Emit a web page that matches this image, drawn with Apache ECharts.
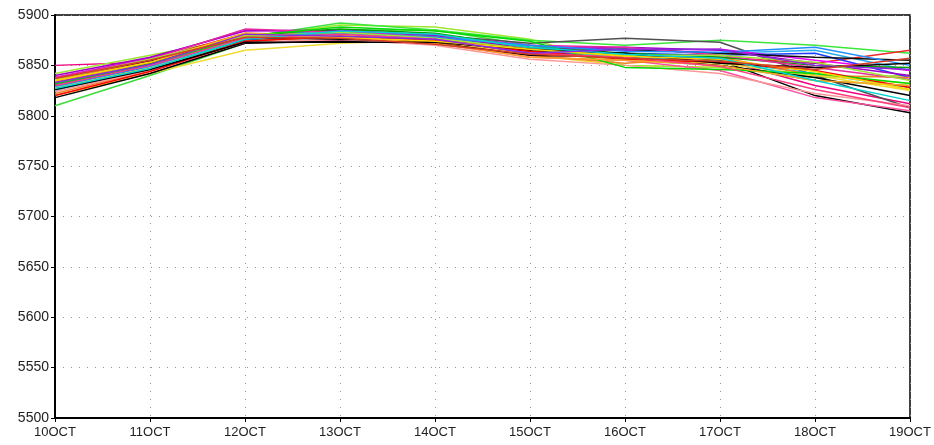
<!DOCTYPE html>
<html>
<head>
<meta charset="utf-8">
<script src="https://cdn.jsdelivr.net/npm/echarts@6/dist/echarts.min.js"></script>
<style>
	html, body { margin: 0; padding: 0; background: #fff; }
	#chart { width: 934px; height: 445px; }
</style>
</head>
<body>
<div id="chart"></div>
<script>
	// dates on the x axis
	var days = ["10OCT", "11OCT", "12OCT", "13OCT", "14OCT", "15OCT", "16OCT", "17OCT", "18OCT", "19OCT"];
	var yTicks = [5500, 5550, 5600, 5650, 5700, 5750, 5800, 5850, 5900];

	// ensemble members
	var m01 = [5850, 5853, 5876, 5880, 5878, 5862, 5860, 5856, 5830, 5812];
	var m02 = [5810, 5840, 5872, 5885, 5885, 5870, 5855, 5850, 5835, 5830];
	var m03 = [5820, 5842, 5865, 5872, 5875, 5860, 5850, 5848, 5840, 5825];
	var m04 = [5842, 5860, 5878, 5890, 5888, 5876, 5850, 5848, 5838, 5840];
	var m05 = [5828, 5850, 5878, 5892, 5885, 5875, 5870, 5875, 5870, 5862];
	var m06 = [5835, 5852, 5880, 5882, 5880, 5872, 5877, 5873, 5840, 5808];
	var m07 = [5830, 5848, 5875, 5878, 5874, 5865, 5862, 5855, 5820, 5803];
	var m08 = [5826, 5845, 5872, 5875, 5872, 5858, 5855, 5845, 5818, 5805];
	var m09 = [5832, 5852, 5880, 5884, 5878, 5868, 5866, 5862, 5865, 5845];
	var m10 = [5836, 5855, 5882, 5880, 5876, 5866, 5860, 5858, 5852, 5865];
	var m11 = [5838, 5857, 5885, 5883, 5880, 5870, 5865, 5866, 5855, 5845];
	var m12 = [5832, 5850, 5876, 5880, 5876, 5862, 5862, 5860, 5862, 5838];
	var m13 = [5825, 5848, 5874, 5882, 5879, 5866, 5858, 5854, 5842, 5828];
	var m14 = [5822, 5845, 5874, 5879, 5873, 5860, 5852, 5858, 5840, 5838];
	var m15 = [5840, 5858, 5884, 5885, 5880, 5866, 5868, 5865, 5852, 5840];
	var m16 = [5818, 5842, 5872, 5874, 5872, 5860, 5858, 5850, 5838, 5820];
	var m17 = [5830, 5852, 5880, 5886, 5882, 5868, 5862, 5858, 5850, 5848];
	var m18 = [5828, 5848, 5877, 5880, 5876, 5862, 5856, 5852, 5840, 5832];
	var m19 = [5824, 5845, 5873, 5876, 5870, 5856, 5850, 5842, 5822, 5810];
	var m20 = [5834, 5854, 5878, 5876, 5874, 5864, 5866, 5862, 5858, 5855];
	var m21 = [5820, 5844, 5874, 5879, 5875, 5864, 5856, 5853, 5845, 5828];
	var m22 = [5838, 5856, 5886, 5883, 5878, 5870, 5868, 5860, 5848, 5836];
	var m23 = [5832, 5851, 5879, 5888, 5884, 5874, 5848, 5846, 5842, 5832];
	var m24 = [5829, 5849, 5877, 5882, 5878, 5870, 5864, 5863, 5868, 5850];
	var m25 = [5834, 5853, 5880, 5878, 5872, 5858, 5855, 5850, 5835, 5830];
	var m26 = [5836, 5856, 5879, 5883, 5877, 5866, 5860, 5860, 5853, 5835];
	var m27 = [5826, 5846, 5873, 5873, 5873, 5866, 5862, 5852, 5848, 5852];
	var m28 = [5830, 5850, 5877, 5881, 5876, 5862, 5858, 5849, 5826, 5808];
	var m29 = [5835, 5853, 5882, 5878, 5874, 5866, 5859, 5856, 5844, 5826];
	var m30 = [5827, 5847, 5876, 5884, 5881, 5868, 5861, 5857, 5835, 5815];
	var m31 = [5833, 5851, 5881, 5879, 5876, 5862, 5866, 5866, 5850, 5846];
	var m32 = [5837, 5855, 5878, 5877, 5871, 5861, 5857, 5854, 5846, 5857];

	var members = [m01, m02, m03, m04, m05, m06, m07, m08, m09, m10, m11, m12, m13, m14, m15, m16,
		m17, m18, m19, m20, m21, m22, m23, m24, m25, m26, m27, m28, m29, m30, m31, m32];
	var colors = ["#f00082", "#3cdc3c", "#f0dc32", "#a0e632", "#3ce63c", "#505050", "#000000", "#ff50a0",
		"#28aaf0", "#f02828", "#f000f0", "#1e3cff", "#00c8c8", "#f08228", "#a000c8", "#000000",
		"#00a000", "#e6dc32", "#fa9696", "#101010", "#ff0000", "#e628a0", "#00dc00", "#1e8cff",
		"#ffa028", "#a0e632", "#000000", "#ff3c82", "#ffd200", "#00d2d2", "#8c28dc", "#d23c28"];

	var chart = echarts.init(document.getElementById("chart"));
	var txt = { color: "#222", fontFamily: "Liberation Sans", fontSize: 13 };

	chart.setOption({
		animation: false,
		grid: { left: 55, right: 24, top: 15, bottom: 27, show: true, borderColor: "#000", borderWidth: 1.5 },
		xAxis: {
			type: "category",
			data: days,
			boundaryGap: false,
			axisLine: { lineStyle: { color: "#000", width: 2 } },
			axisTick: { show: true, length: 4, lineStyle: { color: "#000" } },
			axisLabel: Object.assign({ margin: 8 }, txt),
			splitLine: { show: true, lineStyle: { color: "#999", type: [1, 7] } }
		},
		yAxis: {
			type: "value",
			min: yTicks[0],
			max: yTicks[yTicks.length - 1],
			interval: 50,
			axisLine: { show: true, lineStyle: { color: "#000", width: 2 } },
			axisTick: { show: true, length: 4, lineStyle: { color: "#000" } },
			axisLabel: Object.assign({
				margin: 6,
				formatter: function (v) { return String(v); }
			}, txt, { fontSize: 14 }),
			splitLine: { show: true, lineStyle: { color: "#999", type: [1, 7] } }
		},
		series: members.map(function (d, i) {
			return {
				type: "line",
				data: d,
				symbol: "none",
				lineStyle: { width: 1.5, color: colors[i] },
				itemStyle: { color: colors[i] }
			};
		})
	});
</script>
</body>
</html>
